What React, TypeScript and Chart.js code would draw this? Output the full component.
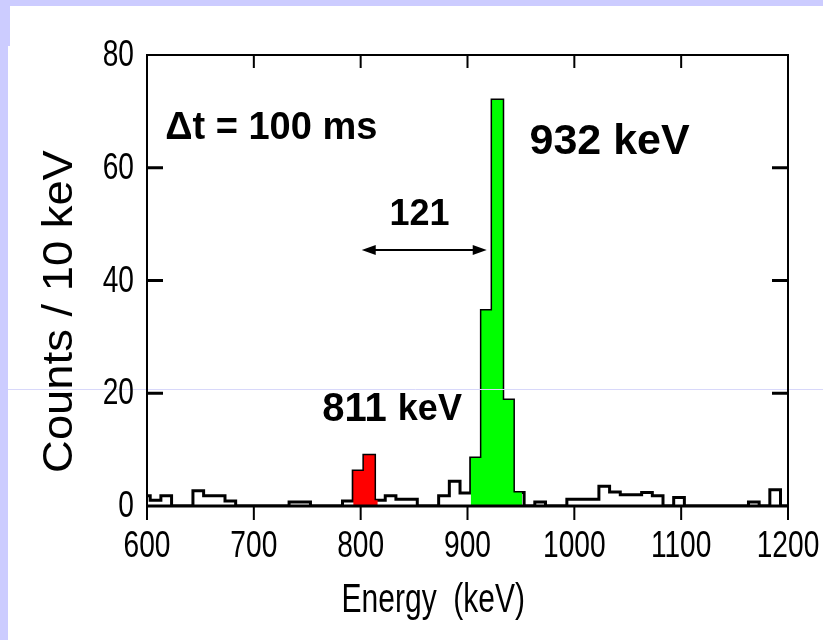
import React, { useEffect, useRef } from "react";
import { Chart, registerables } from "chart.js";

Chart.register(...registerables);

// ---------- data ----------
// 10 keV bins, given by their centre energy (keV)
const binCenters = [
  598, 608, 618, 628, 638, 648, 658, 668, 678, 688,
  698, 708, 718, 728, 738, 748, 758, 768, 778, 788,
  798, 808, 818, 828, 838, 848, 858, 868, 878, 888,
  898, 908, 918, 928, 938, 948, 958, 968, 978, 988,
  998, 1008, 1018, 1028, 1038, 1048, 1058, 1068, 1078, 1088,
  1098, 1108, 1118, 1128, 1138, 1148, 1158, 1168, 1178, 1188,
  1198,
];
const counts = [
  1.8, 1.0, 1.8, 0, 0, 2.7, 1.8, 1.8, 0.9, 0,
  0, 0, 0, 0, 0.7, 0.7, 0, 0, 0, 0.9,
  6.2, 9.0, 1.0, 1.8, 1.2, 1.2, 0, 0, 1.8, 4.4,
  2.3, 8.5, 34.7, 72.0, 18.8, 2.4, 0, 0.7, 0, 0,
  1.2, 1.2, 1.2, 3.5, 2.5, 2.0, 2.0, 2.4, 1.8, 0,
  1.5, 0, 0, 0, 0, 0, 0, 0.7, 0, 2.9,
  0,
];
const binWidth = 10;
const redRange = [793, 816];
const greenRange = [903, 951];
const xTicks = [600, 700, 800, 900, 1000, 1100, 1200];
const yTicks = [0, 20, 40, 60, 80];
const xTitle = "Energy  (keV)";
const yTitle = "Counts / 10 keV";

function stepPoints(lo: number, hi: number) {
  const pts: { x: number; y: number }[] = [];
  binCenters.forEach((c, i) => {
    const a = Math.max(c - binWidth / 2, lo);
    const b = Math.min(c + binWidth / 2, hi);
    if (b > a) {
      pts.push({ x: a, y: counts[i] }, { x: b, y: counts[i] });
    }
  });
  return pts;
}

const SANS = "'Liberation Sans', Arial, Helvetica, sans-serif";

function scaledText(ctx: any, text: string, x: number, y: number, sx: number, sy: number, align: string) {
  ctx.save();
  ctx.translate(x, y);
  ctx.scale(sx, sy);
  ctx.textAlign = align;
  ctx.fillText(text, 0, 0);
  ctx.restore();
}

const decorPlugin = {
  id: "decor",
  beforeDraw(chart: any) {
    const { ctx, width, height } = chart;
    ctx.save();
    ctx.fillStyle = "#ccccff";
    ctx.fillRect(0, 0, width, height);
    ctx.fillStyle = "#ffffff";
    ctx.fillRect(10, 6, width - 10, 42);
    ctx.fillRect(8, 46, width - 8, height - 46);
    ctx.restore();
  },
  beforeDatasetDraw(chart: any, args: any) {
    if (args.index < 2) {
      const { ctx, chartArea: a } = chart;
      ctx.save();
      ctx.beginPath();
      ctx.rect(a.left, a.top, a.right - a.left, a.bottom - a.top);
      ctx.clip();
      ctx.translate(2, 4);
    }
  },
  afterDatasetDraw(chart: any, args: any) {
    if (args.index < 2) chart.ctx.restore();
  },
  afterDraw(chart: any) {
    const { ctx, chartArea: a, width } = chart;
    const xs = chart.scales.x;
    const ys = chart.scales.y;
    ctx.save();
    // faint slide line
    const fy = Math.round(ys.getPixelForValue(20.7)) + 0.5;
    ctx.strokeStyle = "#d8d8fa";
    ctx.lineWidth = 1;
    ctx.beginPath();
    ctx.moveTo(8, fy);
    ctx.lineTo(width, fy);
    ctx.stroke();

    // frame
    ctx.strokeStyle = "#000";
    ctx.lineWidth = 2;
    ctx.strokeRect(a.left, a.top, a.right - a.left, a.bottom - a.top);
    ctx.lineWidth = 3;
    ctx.beginPath();
    ctx.moveTo(a.left - 1, a.bottom);
    ctx.lineTo(a.right + 1, a.bottom);
    ctx.stroke();

    // ticks
    ctx.lineWidth = 2;
    ctx.beginPath();
    xTicks.forEach((v) => {
      const px = xs.getPixelForValue(v);
      ctx.moveTo(px, a.bottom);
      ctx.lineTo(px, a.bottom + 14);
      if (v !== xTicks[0] && v !== xTicks[xTicks.length - 1]) {
        ctx.moveTo(px, a.top);
        ctx.lineTo(px, a.top + 13);
      }
    });
    ctx.stroke();
    ctx.lineWidth = 3;
    ctx.beginPath();
    yTicks.forEach((v) => {
      if (v === yTicks[0] || v === yTicks[yTicks.length - 1]) return;
      const py = ys.getPixelForValue(v);
      ctx.moveTo(a.left, py);
      ctx.lineTo(a.left + 16, py);
      ctx.moveTo(a.right, py);
      ctx.lineTo(a.right - 16, py);
    });
    ctx.stroke();

    // tick labels (narrow face)
    ctx.fillStyle = "#000";
    ctx.textBaseline = "middle";
    ctx.font = `37px ${SANS}`;
    xTicks.forEach((v) => {
      scaledText(ctx, String(v), xs.getPixelForValue(v), a.bottom + 41, 0.76, 1, "center");
    });
    yTicks.forEach((v) => {
      scaledText(ctx, String(v), a.left - 13, ys.getPixelForValue(v) + 1, 0.76, 1, "right");
    });

    // axis titles
    ctx.font = `40px ${SANS}`;
    scaledText(ctx, xTitle, xs.getPixelForValue(868), 601, 0.75, 1, "center");
    ctx.save();
    ctx.translate(60, ys.getPixelForValue(34.5));
    ctx.rotate(-Math.PI / 2);
    ctx.font = `42px ${SANS}`;
    scaledText(ctx, yTitle, 0, 0, 1.08, 1, "center");
    ctx.restore();

    // annotations
    ctx.textAlign = "left";
    ctx.font = `bold 38px ${SANS}`;
    ctx.fillText("\u0394t = 100 ms", xs.getPixelForValue(617), ys.getPixelForValue(67));
    ctx.font = `bold 43px ${SANS}`;
    ctx.fillText("932 keV", xs.getPixelForValue(958), ys.getPixelForValue(64.6));
    ctx.textAlign = "center";
    ctx.font = `bold 36px ${SANS}`;
    ctx.fillText("121", xs.getPixelForValue(855), ys.getPixelForValue(51.6));
    ctx.textAlign = "left";
    ctx.font = `bold 40px ${SANS}`;
    const x811 = xs.getPixelForValue(764);
    const y811 = ys.getPixelForValue(17);
    ctx.fillText("811", x811, y811);
    const w811 = ctx.measureText("811 ").width;
    ctx.font = `bold 36px ${SANS}`;
    ctx.fillText("keV", x811 + w811, y811);

    // double arrow
    const ax1 = xs.getPixelForValue(801);
    const ax2 = xs.getPixelForValue(918);
    const ay = ys.getPixelForValue(45.4);
    ctx.lineWidth = 2;
    ctx.beginPath();
    ctx.moveTo(ax1 + 8, ay);
    ctx.lineTo(ax2 - 8, ay);
    ctx.stroke();
    ctx.beginPath();
    ctx.moveTo(ax1, ay);
    ctx.lineTo(ax1 + 14, ay - 5);
    ctx.lineTo(ax1 + 14, ay + 5);
    ctx.closePath();
    ctx.moveTo(ax2, ay);
    ctx.lineTo(ax2 - 14, ay - 5);
    ctx.lineTo(ax2 - 14, ay + 5);
    ctx.closePath();
    ctx.fill();
    ctx.restore();
  },
};

export default function App() {
  const ref = useRef<HTMLCanvasElement | null>(null);
  useEffect(() => {
    if (!ref.current) return;
    const chart = new Chart(ref.current, {
      type: "line",
      data: {
        datasets: [
          {
            data: stepPoints(redRange[0], redRange[1]),
            borderWidth: 0,
            borderColor: "rgba(0,0,0,0)",
            backgroundColor: "#ff0000",
            fill: "origin",
            pointRadius: 0,
            tension: 0,
          },
          {
            data: stepPoints(greenRange[0], greenRange[1]),
            borderWidth: 0,
            borderColor: "rgba(0,0,0,0)",
            backgroundColor: "#00ff00",
            fill: "origin",
            pointRadius: 0,
            tension: 0,
          },
          {
            data: stepPoints(-Infinity, Infinity),
            borderWidth: 3,
            borderColor: "#000000",
            borderJoinStyle: "miter",
            fill: false,
            pointRadius: 0,
            tension: 0,
          },
        ],
      },
      options: {
        responsive: false,
        animation: false,
        parsing: false,
        layout: { padding: { left: 0, right: 35, top: 55, bottom: 0 } },
        plugins: { legend: { display: false }, tooltip: { enabled: false } },
        scales: {
          x: {
            type: "linear",
            min: 600,
            max: 1200,
            afterBuildTicks: (s: any) => {
              s.ticks = xTicks.map((v) => ({ value: v }));
            },
            grid: { display: false, drawTicks: false },
            border: { display: false },
            ticks: { display: false },
            afterFit: (s: any) => {
              s.height = 134;
              s.paddingLeft = 0;
              s.paddingRight = 0;
            },
          },
          y: {
            type: "linear",
            min: 0,
            max: 80,
            afterBuildTicks: (s: any) => {
              s.ticks = yTicks.map((v) => ({ value: v }));
            },
            grid: { display: false, drawTicks: false },
            border: { display: false },
            ticks: { display: false },
            afterFit: (s: any) => {
              s.width = 147;
              s.paddingTop = 0;
              s.paddingBottom = 0;
            },
          },
        },
      },
      plugins: [decorPlugin],
    } as any);
    return () => chart.destroy();
  }, []);
  return (
    <div style={{ position: "absolute", left: 0, top: 0, width: 823, height: 640 }}>
      <canvas ref={ref} width={823} height={640} />
    </div>
  );
}
